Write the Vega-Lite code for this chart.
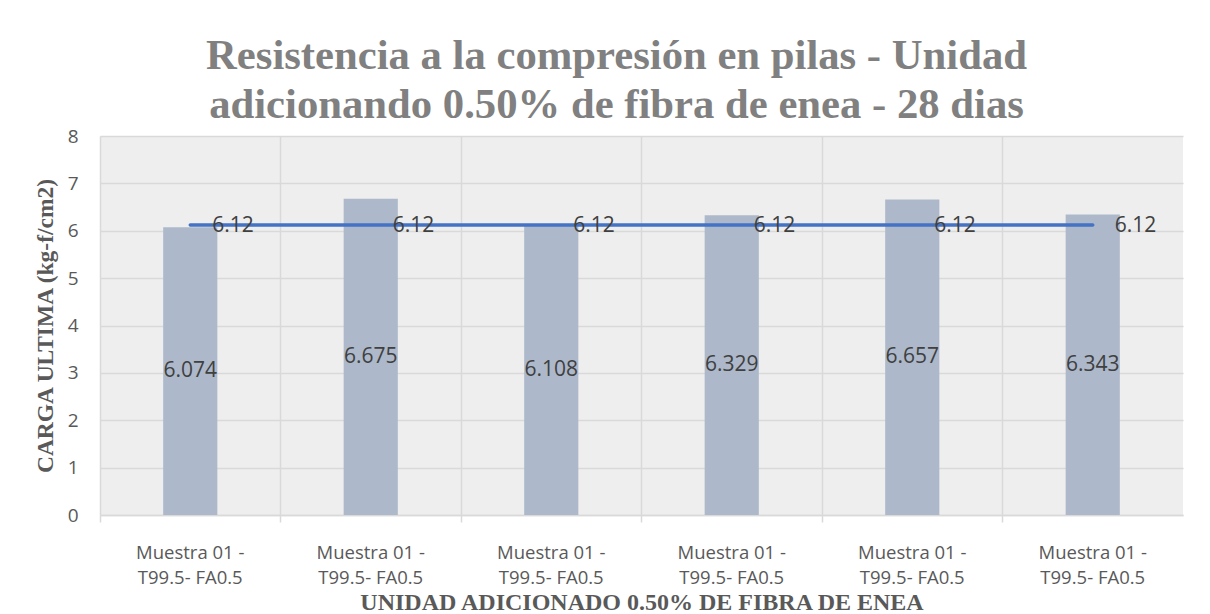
{
  "$schema": "https://vega.github.io/schema/vega-lite/v6.json",
  "autosize": "none",
  "padding": {"left": 100, "top": 136, "right": 27, "bottom": 99},
  "width": 1083,
  "height": 379,
  "background": "white",
  "config": {
    "view": {"stroke": null, "fill": "#eeeeee"}
  },
  "title": {
    "text": ["Resistencia a la compresión en pilas - Unidad", "adicionando 0.50% de fibra de enea - 28 dias"],
    "font": "Liberation Serif",
    "fontSize": 42.7,
    "fontWeight": "bold",
    "color": "#808080",
    "lineHeight": 49,
    "anchor": "middle",
    "dx": -25,
    "offset": 0
  },
  "data": {
    "values": [
      {"sample": 1, "value": 6.074, "avg": 6.12},
      {"sample": 2, "value": 6.675, "avg": 6.12},
      {"sample": 3, "value": 6.108, "avg": 6.12},
      {"sample": 4, "value": 6.329, "avg": 6.12},
      {"sample": 5, "value": 6.657, "avg": 6.12},
      {"sample": 6, "value": 6.343, "avg": 6.12}
    ]
  },
  "encoding": {
    "x": {
      "field": "sample",
      "type": "ordinal",
      "scale": {"paddingInner": 0, "paddingOuter": 0},
      "axis": {
        "title": "UNIDAD ADICIONADO 0.50% DE FIBRA DE ENEA",
        "titleFont": "Liberation Serif",
        "titleFontSize": 24,
        "titleFontWeight": "bold",
        "titleColor": "#595959",
        "titlePadding": 4,
        "titleBaseline": "top",
        "labelExpr": "['Muestra 01 -', 'T99.5- FA0.5']",
        "labelAngle": 0,
        "labelFont": "Open Sans",
        "labelFontSize": 18.5,
        "labelColor": "#595959",
        "labelLineHeight": 25,
        "labelPadding": 21,
        "bandPosition": 0,
        "grid": true,
        "gridColor": "#d9d9d9",
        "gridWidth": 1.5,
        "ticks": true,
        "tickColor": "#d9d9d9",
        "tickSize": 7,
        "tickWidth": 1.5,
        "domainColor": "#d9d9d9",
        "domainWidth": 1.5
      }
    }
  },
  "layer": [
    {
      "mark": {"type": "bar", "color": "#adb9ca", "width": {"band": 0.3}},
      "encoding": {
        "y": {
          "field": "value",
          "type": "quantitative",
          "scale": {"domain": [0, 8]},
          "axis": {
            "title": "CARGA ULTIMA (kg-f/cm2)",
            "titleFont": "Liberation Serif",
            "titleFontSize": 23.5,
            "titleFontWeight": "bold",
            "titleColor": "#595959",
            "titlePadding": 10,
            "tickCount": 8,
            "labelFont": "Open Sans",
            "labelFontSize": 19,
            "labelColor": "#595959",
            "labelPadding": 22,
            "ticks": false,
            "domain": false,
            "grid": true,
            "gridColor": "#d9d9d9",
            "gridWidth": 1.5
          }
        }
      }
    },
    {
      "mark": {"type": "line", "color": "#4472c4", "strokeWidth": 3.5, "strokeCap": "round"},
      "encoding": {
        "y": {"field": "avg", "type": "quantitative", "scale": {"domain": [0, 8]}, "axis": null}
      }
    },
    {
      "mark": {"type": "text", "align": "left", "baseline": "middle", "dx": 22, "dy": 1, "font": "Open Sans", "fontSize": 21, "color": "#404040"},
      "encoding": {
        "y": {"field": "avg", "type": "quantitative", "scale": {"domain": [0, 8]}, "axis": null},
        "text": {"field": "avg", "type": "quantitative", "format": ".2f"}
      }
    },
    {
      "mark": {"type": "text", "align": "center", "baseline": "middle", "font": "Open Sans", "fontSize": 21, "color": "#404040"},
      "encoding": {
        "y": {"field": "value", "type": "quantitative", "scale": {"domain": [0, 16]}, "axis": null},
        "text": {"field": "value", "type": "quantitative", "format": ".3f"}
      }
    }
  ],
  "resolve": {"scale": {"y": "independent"}}
}
